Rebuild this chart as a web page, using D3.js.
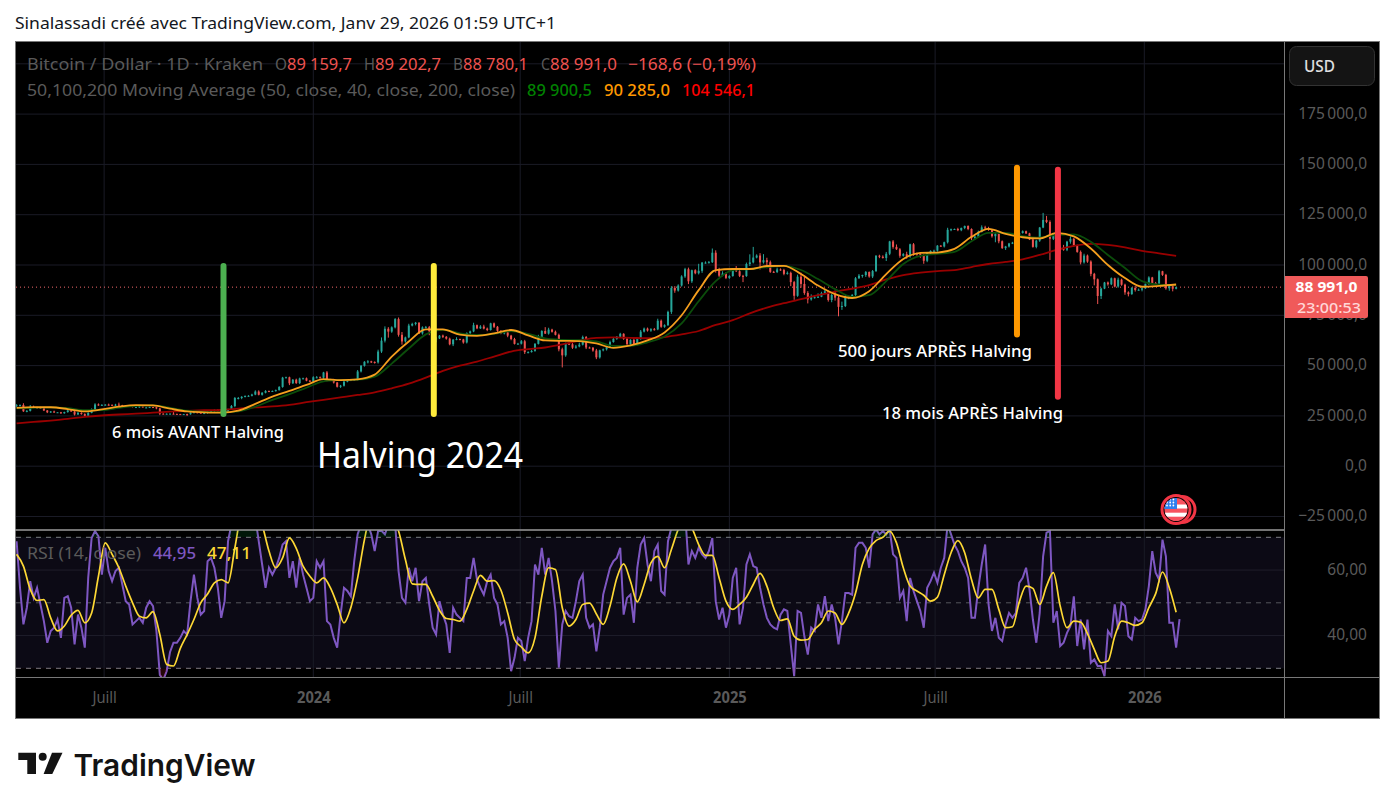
<!DOCTYPE html>
<html><head><meta charset="utf-8">
<script src="https://cdn.jsdelivr.net/npm/d3@7/dist/d3.min.js"></script>
<style>
html,body{margin:0;padding:0;background:#fff;overflow:hidden}
svg{display:block}
text{font-family:"Noto Sans",sans-serif}
</style></head><body>
<svg id="c" width="1395" height="809"></svg>
<script>
// ---- DATA (prices in thousands of USD) ----
const candleStart = "2023-04-15", candleStepDays = 3, firstOpen = 29.9;
const closes = [
30.3,30.4,27.3,27.5,29.5,29.2,29.0,28.9,27.7,26.8,
27.2,26.8,26.8,26.3,26.9,27.7,27.2,25.7,26.5,25.9,
25.1,26.5,28.3,30.7,30.3,30.5,30.6,30.5,30.3,30.6,
30.3,30.1,29.9,30.1,29.4,29.4,29.7,29.2,29.2,29.4,
29.3,28.7,26.1,26.0,26.1,26.1,26.0,25.9,25.8,25.9,
25.8,26.6,26.8,26.6,26.3,26.4,27.0,27.4,28.0,27.6,
26.8,27.1,28.4,29.9,33.9,33.9,34.5,34.9,35.0,35.6,
37.1,35.5,36.5,37.4,37.3,37.4,37.8,39.4,44.0,44.2,
41.2,43.0,41.3,43.6,43.7,42.5,42.1,44.2,44.2,44.0,
46.6,42.8,43.1,41.6,39.5,40.0,42.0,42.6,43.0,43.1,
47.1,49.9,51.9,52.1,51.8,51.6,57.0,62.4,68.3,66.9,
69.0,73.1,65.3,62.0,64.0,69.9,70.7,71.3,66.0,69.0,
69.1,67.1,63.4,63.5,64.9,64.3,63.4,60.6,62.9,63.2,
63.0,61.5,66.2,67.0,70.1,68.5,69.4,68.4,67.7,71.0,
69.3,67.3,66.0,66.5,64.9,63.2,60.8,60.9,62.1,56.7,
56.7,57.3,60.8,64.1,67.2,65.9,67.9,66.8,65.3,58.1,
55.1,60.9,60.6,58.9,59.5,60.4,64.2,59.0,58.9,57.5,
54.1,57.6,58.1,59.2,61.7,63.3,64.3,65.8,63.3,60.7,
62.8,60.6,63.2,66.9,68.4,67.4,68.1,68.0,72.3,69.3,
70.1,76.7,88.6,87.3,89.8,94.3,97.9,91.9,97.4,95.9,
97.1,101.2,101.2,101.4,106.1,97.8,94.7,95.8,93.6,94.5,
98.0,96.9,94.6,94.5,100.5,101.3,103.7,104.7,101.3,102.4,
101.4,96.6,96.5,97.8,97.5,95.6,96.1,91.5,84.7,94.2,
90.6,86.1,82.9,84.0,84.0,84.2,86.0,86.9,82.6,85.1,
83.8,79.2,79.6,83.7,84.0,85.1,93.4,94.7,95.0,96.5,
94.3,97.0,104.6,104.1,103.5,105.6,111.7,109.0,107.8,104.6,
105.4,104.3,110.3,105.7,105.5,104.9,102.1,105.9,107.0,107.1,
109.6,109.2,111.3,117.5,117.8,117.9,117.3,118.4,119.4,117.9,
113.3,114.1,116.5,118.7,118.4,117.4,114.3,115.4,111.8,108.4,
109.2,110.7,111.1,113.9,115.9,116.8,115.7,112.7,109.0,112.1,
118.6,122.4,121.4,113.0,115.2,108.2,108.7,107.6,111.6,113.0,
109.6,106.5,101.3,104.7,101.7,95.6,92.9,84.6,88.3,91.3,
90.4,93.4,89.3,92.7,90.2,86.4,85.5,88.6,87.6,87.7,
88.4,90.5,93.8,91.0,90.8,96.9,95.1,88.4,89.5,88.2,
89.0];
const wickUp = [
.5,.3,.9,.4,.9,.6,.4,.5,.3,.2,
.2,.4,.1,.2,.2,.5,.2,.2,.5,.3,
.4,.3,.4,.6,.5,.3,.2,.5,.2,.4,
1.0,.2,.3,.1,.3,.1,.2,.1,.3,.2,
.1,.2,.3,.2,.1,.2,1.0,.1,.1,.1,
.2,.2,.3,.2,.1,.2,.3,.4,.1,.2,
.1,.3,.2,.5,.5,.5,.3,.3,.3,.4,
.6,.6,.3,.4,.2,.2,.3,.4,.4,.3,
.3,.3,.5,.4,.3,.4,.3,.5,.6,.4,
.3,.7,.3,.3,.2,.4,.4,.6,.2,.2,
.7,.4,.3,.6,.3,.3,.9,1.6,1.2,.8,
.5,.5,.8,1.4,.4,.9,.6,.4,.3,.5,
.6,.6,.6,.8,.3,.5,.4,.5,.3,.9,
.2,.3,.3,.4,1.2,.3,.7,.9,.5,.3,
.4,.4,.3,.4,.5,.4,.6,.4,.6,.7,
.4,.5,.4,1.2,.4,1.9,.9,.4,.6,.6,
.8,.5,.9,.6,.8,1.0,.7,.5,.4,.3,
.8,.3,.4,.3,.7,.4,.4,.5,.3,.6,
.3,.8,.4,.8,.5,.5,.5,.6,1.0,.6,
.4,.6,.9,.9,.6,.6,.7,.8,.3,.5,
3.5,.3,.6,.6,2.1,1.2,.8,1.1,.6,.4,
.4,1.5,.8,.5,.7,4.0,5.3,.6,1.2,3.0,
1.2,.8,.5,.9,.5,.6,.7,.6,.6,1.0,
2.0,3.5,.9,1.4,.7,1.7,.7,1.0,.4,.6,
2.2,1.3,2.2,1.6,.8,.5,.6,.8,.2,.5,
.3,.5,.3,.5,.7,.9,.3,.7,1.2,.6,
.5,1.2,.3,.6,.5,.6,.5,.4,.3,.5,
.3,.3,.3,1.0,.3,.2,.6,.2,.2,.3,
.3,.4,.6,1.0,.8,.6,.3,.5,.2,.4,
.3,.3,.4,.5,.2,.4,.3,.3,.3,.4,
.3,3.5,2.0,.8,.5,.9,1.0,1.3,.4,1.2,
.4,.5,.7,.9,.5,.6,.5,.4,.4,.3,
.5,.4,.3,1.0,.5,.5,.5,.4,1.0,.6,
.5,.3,.6,.3,.6,.6,.2,.5,.6,.3,
.2];
const wickDown = [
.4,.6,.3,.5,.3,.4,.5,.3,.3,.4,
.3,.3,.2,.3,.2,.3,.2,.5,.2,.3,
.3,.4,.2,.3,.3,.3,.3,.4,.2,.4,
.2,.3,.2,.4,.2,.2,.4,.1,.2,.2,
.2,.4,.7,.2,.3,.2,.2,.2,.1,.2,
.8,.2,.2,.3,.2,.1,.3,.3,.2,.3,
.1,.2,.2,.3,.6,.7,.6,.3,.4,.3,
.3,.3,.4,.3,.5,.3,.3,.2,.4,.3,
.9,.3,.4,.5,.4,.3,.3,.3,.5,.4,
.5,.6,.4,.5,.4,.6,.4,.3,.3,.5,
.4,.5,.4,.8,.5,.6,.6,.7,.9,3.0,
.6,.5,.9,1.6,.6,.4,.4,.7,.3,.6,
.4,2.0,.9,1.8,.3,.6,.5,.5,.9,.3,
.4,.6,.5,.6,.4,.4,.3,.4,.6,.3,
.6,.5,.4,.5,.8,.6,.3,.3,.4,.9,
.6,.2,.4,.3,.5,.2,.5,.4,.3,1.0,
6.0,.7,.4,.6,.5,.4,.4,.8,.4,.6,
.9,.6,.5,.6,.4,.3,.5,.4,.5,.6,
.3,.5,.5,.4,.4,.5,.6,.6,.4,.5,
.5,.4,1.0,1.1,.5,.5,.7,1.4,.8,.5,
.6,1.0,.5,.4,.4,1.6,.7,.3,.6,.5,
.3,.4,.6,3.0,.4,1.0,.5,.4,3.5,.6,
3.0,.5,.4,.5,.4,.7,.4,2.0,2.0,.5,
1.9,.9,2.0,.6,.7,.3,.2,.5,.8,1.1,
1.5,4.7,1.5,.5,.7,.2,.6,.3,1.0,.9,
.6,.8,.5,.7,.3,1.5,.7,.9,.3,1.0,
.4,1.2,.7,1.1,.9,1.3,1.5,.7,.4,.4,
.5,.2,.5,.6,.7,.3,.5,.5,.6,.6,
.9,.7,.4,.3,.6,.4,.7,3.0,1.0,.4,
.9,.5,.3,.6,.4,.3,.3,.3,.4,.7,
.6,.3,.6,10.5,.6,.8,2.7,.5,.7,1.0,
.5,.4,1.0,.6,.6,1.2,3.0,4.0,1.5,.3,
.7,.4,.4,.6,.5,1.2,1.1,.3,.8,.3,
.8,.3,.4,.7,.4,.3,.5,.7,1.2,1.3,
.3];
const maStepDays = 15;
const ma40 = [29.0,29.4,29.3,28.4,27.2,28.2,29.6,30.4,30.2,28.6,27.2,26.8,26.6,27.6,31.0,34.6,37.4,40.4,43.3,42.8,43.2,45.5,54.5,62,68,68,65.4,64.8,66,67.7,65,62.5,62.3,62.2,61,58.8,60,62.5,66.5,75,87.5,97.5,98,98,99.5,99.6,95.5,89.8,85.5,83.6,87,95.5,103,106,106.2,108,114,118,115.5,113.8,113.2,116,114.2,108.2,100,93.5,89.2,89.6,90.3];
const ma50 = [28.8,29.0,29.2,28.8,27.8,27.9,29.0,30.0,30.2,29.0,27.6,27.0,26.7,27.2,29.6,33.0,35.8,39,42.2,42.8,43,44.5,51,58.5,65.5,67.8,66,65.2,65.8,67.2,65.8,63.5,62.8,62.6,62,59.8,59.8,61.6,64.5,71,82,92,97.5,98,99,99.6,97.5,93,88,84.2,85,92,100.5,104.5,105.5,106.5,111.8,116,116,114.4,113.6,115,115.2,111.5,105,98.5,92,90.2,89.9];
const ma200 = [21.3,22,22.7,23.5,24.5,25.2,25.7,26.1,26.6,27.1,27.5,27.8,28,28.6,29.2,29.7,30.5,31.8,33,34.2,35.4,36.7,38.7,41,44,47.4,50,52,54.5,57,58.2,59,60.5,62.4,63.8,64,63.8,63.6,64.2,65.5,67.2,70.2,72.6,76,78.8,81,83,85,86.8,88.2,90,92.8,95,96.2,97,97.5,99,100.5,101.5,102.8,105,107.5,109.5,110.5,110,108.8,107,105.8,104.5];
const rsi = [
68.8,54.6,43.4,48.5,56.6,51.5,54.6,49.5,44.4,37.8,41.4,42.4,44.9,39.3,51.5,52,48.5,37.3,46.4,42.4,36.3,57.6,69.8,71.9,70.3,58.6,66.8,59.7,56.6,59.7,60.7,55.6,50.5,49.5,43.4,44.4,45.4,43.9,48.5,50.5,49,41.4,28,26.5,29.1,35,37.8,37.8,39.3,41.4,40.3,50.5,58.6,51.5,46.4,47.5,62.7,63.7,60.7,54.6,45.4,50.5,68.8,73.9,78,80,78,76,76,77,76,68.8,61.7,54.6,60.7,58.6,60.7,63.7,67.8,68.8,57.6,62.7,54.6,63.7,58.6,54.6,50.5,51.5,62.7,60.7,62.7,44.4,43.4,39.3,36.3,46.4,54.6,53.6,
52,62.7,70.9,73.9,76,73.9,70.9,65.8,71.9,72,70.9,73.9,75,73.9,59.7,51.5,50,60.7,56.6,60.7,50.5,56.6,57.6,49.5,42.4,40.3,50.5,46.4,43.4,34.7,48.5,46.4,45.4,44.4,57.6,57.6,63.7,57.1,54.6,52.5,56.6,58.6,51.5,49.5,43.4,44.4,39.3,29.1,33.2,39.3,38.3,32.2,39.3,44.4,61.7,58.6,66.8,58.6,63.7,56.6,47.5,30.2,43.4,47.5,45.9,45.4,50.5,56.6,58.6,45.4,42.4,43.4,35.2,42.4,52.5,56.6,60.7,62.7,63.7,66.8,46.4,51.5,52.5,43.9,60.7,67.8,69.8,61.7,56.6,65.8,67.8,53.6,52.5,68.8,72.9,73.9,76,
80,78,61.7,65.8,63.7,66.8,64.8,63.7,65.8,69.8,50.5,44.9,48.5,42.4,46.4,57.6,60.7,43.4,48.5,61.7,64.8,61.2,60.7,54.6,49.5,45.4,43.4,42.4,41.9,46.4,48,47.5,37.3,27.6,47.5,46.9,39.7,34.2,42.4,41.4,49.5,45.4,52,44.4,49.5,45.4,37.3,44.4,53,53,52.5,66.8,68.3,68.3,66.8,60.7,70.9,72.4,70.9,71.9,70.9,72.4,64.8,63.7,51.5,53.6,44.4,57.6,53.6,50.5,47.5,42.4,54.6,56.6,59.2,56.1,60.7,63.7,73.9,70.9,67.8,65.8,62.7,60.7,57.6,45.4,45.4,54.6,61.7,67.8,49.5,41.4,45.4,39.3,38.3,43.4,46.9,
45.4,46.9,56.1,57.6,60.7,54.1,44.9,37.8,46.9,64.2,71.4,71.9,43.9,47.5,36.8,37.8,40.8,42.9,52,36.8,44.9,35.8,44.9,31.7,32.7,30.7,30.7,27.6,41.4,39.8,49.5,41.9,50,49,39.8,38.8,45.4,44.4,44.9,48,55.1,65.8,59.2,57.1,69.3,64.2,43.9,43.9,36.3,45];
const rsiMaStepDays = 6;
const rsiMa = [
64.8,61.2,54.1,50.7,51,45.4,41.4,42.9,46.2,47.7,43.9,46.9,58.1,68.3,64.8,60.7,55.1,50,45.9,45.4,47.3,40.3,31.2,30.7,36.1,40.3,44.9,50,52.7,56.1,57.1,56.1,66.8,78,81,80,73.9,65.8,60.7,63.7,69.8,66.6,61.2,58.1,56.1,57.6,54.6,49.5,43.9,
48.5,57.6,69.3,78,80,79,76,71.9,63.2,55.8,55.6,55.6,52,47.7,45.2,44.9,44.4,48,53.6,58.4,56.6,56.8,53.9,46.9,38.8,36.5,34.7,39.3,52,60.7,60.2,48.5,42.9,44.9,49.5,49.9,46.6,43.4,49,57.6,61.9,56.6,50.3,55.6,62.2,64.2,60.7,66.3,72.4,
75.9,72.9,67.8,64.5,64.5,57.6,50.5,48,49.5,51.7,55.6,59,55.1,48.5,44.6,45.1,39.8,38.6,38.8,41.9,43.9,47.5,46.9,43.4,46.9,53,61.7,66.6,69,70,71.9,68.3,60.7,55.1,53.6,52.3,50.5,51.7,58.6,65.3,69,65.3,57.1,51.5,54.1,54.1,48,42.4,
42.7,50.2,55.1,54.4,49.5,55.1,59.2,49,42.4,44.4,44.1,40.6,35.8,31.7,32.2,39.8,44.4,43.9,43.1,43.9,48.5,52.8,59.4,54.6,47.1];
const priceTicks = [-25,0,25,50,75,100,125,150,175];
const gridPrices = [-25,0,25,50,75,100,125,150,175,200];
const timeTickDates = ["2023-07-01","2024-01-01","2024-07-01","2025-01-01","2025-07-01","2026-01-01"];
const timeTickLabels = ["Juill","2024","Juill","2025","Juill","2026"];
const rsiTicks = [60,40];
const lastPrice = 88.991;
const annotationDates = ["2023-10-14","2024-04-16","2025-09-11","2025-10-17"];
const annotationTops = [99.5,99.5,148.3,147.3];
const annotationBottoms = [26,26,65.5,34.5];
const annotationColors = ["#4caf50","#ffeb3b","#ff9800","#f23645"];

// ---- LAYOUT ----
const svg = d3.select("#c");
const P = {l:16,r:1284,t:42,b:529.5}, R = {t:530.5,b:677}, OUT = {l:15.5,r:1379.5,t:41.5,b:718.5};
const UP="#26a69a", DOWN="#ef5350", AX="#5a5a5a", GRID="#1a1b26";
const parse = d3.utcParse("%Y-%m-%d");
const t0 = parse(candleStart);
const x = d3.scaleUtc().domain([parse("2024-01-01"),parse("2026-01-01")]).range([313.3,1144.3]);
const y = d3.scaleLinear().domain([0,100]).range([466.2,265]);
const yR = d3.scaleLinear().domain([30,70]).range([668.3,537.3]);
const dateAt = (i,step)=>d3.utcDay.offset(t0,i*step);
const defs = svg.append("defs");
defs.append("clipPath").attr("id","clipP").append("rect").attr("x",P.l).attr("y",P.t).attr("width",P.r-P.l).attr("height",P.b-P.t);
defs.append("clipPath").attr("id","clipR").append("rect").attr("x",P.l).attr("y",R.t).attr("width",P.r-P.l).attr("height",R.b-R.t);
defs.append("clipPath").attr("id","clipOB").append("rect").attr("x",P.l).attr("y",R.t).attr("width",P.r-P.l).attr("height",yR(70)-R.t);
defs.append("clipPath").attr("id","clipOS").append("rect").attr("x",P.l).attr("y",yR(30)).attr("width",P.r-P.l).attr("height",R.b-yR(30));

function label(g,txt,xp,yp,o={}){
  const t=g.append("text").attr("x",xp).attr("y",yp).attr("fill",o.fill||AX).attr("font-size",o.size||15)
   .attr("font-weight",o.weight||400).attr("text-anchor",o.anchor||"start").attr("dominant-baseline","central").text(txt);
  if(o.w){t.attr("textLength",o.w).attr("lengthAdjust","spacingAndGlyphs");}
  return t;
}
function condense(sel,k){ sel.each(function(){ const w=this.getComputedTextLength(); this.setAttribute("textLength",w*k); this.setAttribute("lengthAdjust","spacingAndGlyphs"); }); }

// header
label(svg,"Sinalassadi créé avec TradingView.com, Janv 29, 2026 01:59 UTC+1",15,22.5,{fill:"#131722",size:15.5,w:541});

// frame
svg.append("rect").attr("x",OUT.l).attr("y",OUT.t).attr("width",OUT.r-OUT.l).attr("height",OUT.b-OUT.t).attr("fill","#000").attr("stroke","#787878").attr("stroke-width",1);

// grid main
const gMain = svg.append("g").attr("clip-path","url(#clipP)");
gMain.selectAll("line.h").data(gridPrices).join("line").attr("x1",P.l).attr("x2",P.r).attr("y1",d=>y(d)).attr("y2",d=>y(d)).attr("stroke",GRID);
const tickDates = timeTickDates.map(parse);
gMain.selectAll("line.v").data(tickDates).join("line").attr("x1",d=>x(d)).attr("x2",d=>x(d)).attr("y1",P.t).attr("y2",P.b).attr("stroke",GRID);

// legend (under the marks)
const lg = svg.append("g");
const L1=63, L2=89;
label(lg,"Bitcoin / Dollar · 1D · Kraken",27,L1,{size:17,w:236});
[["O",275,12,AX],["89 159,7",287,65,DOWN],["H",364,11,AX],["89 202,7",375,66,DOWN],["B",453,10,AX],["88 780,1",463,65,DOWN],["C",541,9,AX],["88 991,0",550,67,DOWN],["−168,6 (−0,19%)",628,128,DOWN]]
 .forEach(a=>label(lg,a[0],a[1],L1,{size:17,w:a[2],fill:a[3]}));
label(lg,"50,100,200 Moving Average (50, close, 40, close, 200, close)",27,L2,{size:17,w:488});
[["89 900,5",527,65,"#008000"],["90 285,0",604,66,"#ff9800"],["104 546,1",682,73,"#ff0000"]].forEach(a=>label(lg,a[0],a[1],L2,{size:17,w:a[2],fill:a[3],weight:500}));

// last price dotted
gMain.append("line").attr("x1",P.l).attr("x2",P.r).attr("y1",y(lastPrice)).attr("y2",y(lastPrice)).attr("stroke","#f0686c").attr("stroke-dasharray","1 3");

// candles
const candles = closes.map((c,i)=>{const o=i?closes[i-1]:firstOpen;return {d:dateAt(i,candleStepDays),o,c,h:Math.max(o,c)+wickUp[i],l:Math.min(o,c)-wickDown[i]};});
const gC = gMain.append("g");
gC.selectAll("line").data(candles).join("line").attr("x1",d=>x(d.d)).attr("x2",d=>x(d.d)).attr("y1",d=>y(d.h)).attr("y2",d=>y(d.l)).attr("stroke",d=>d.c>=d.o?UP:DOWN).attr("stroke-width",1);
gC.selectAll("rect").data(candles).join("rect").attr("x",d=>x(d.d)-1).attr("width",2).attr("y",d=>Math.min(y(d.o),y(d.c))).attr("height",d=>Math.max(1,Math.abs(y(d.o)-y(d.c)))).attr("fill",d=>d.c>=d.o?UP:DOWN);

// moving averages
const maLine = d3.line().x((d,i)=>x(dateAt(i,maStepDays))).y(d=>y(d)).curve(d3.curveMonotoneX);
[[ma200,"#990000"],[ma50,"#0b4d0b"],[ma40,"#f59f1e"]].forEach(([s,c])=>gMain.append("path").attr("d",maLine(s)).attr("fill","none").attr("stroke",c).attr("stroke-width",1.8));

// annotation bars
annotationDates.forEach((d,i)=>{
  svg.append("line").attr("x1",x(parse(d))).attr("x2",x(parse(d))).attr("y1",y(annotationTops[i])).attr("y2",y(annotationBottoms[i]))
    .attr("stroke",annotationColors[i]).attr("stroke-width",6).attr("stroke-linecap","round");
});
label(svg,"6 mois AVANT Halving",198,431,{fill:"#fff",size:16.5,anchor:"middle",w:172,weight:500});
label(svg,"Halving 2024",420,454,{fill:"#fff",size:36,anchor:"middle",w:206,weight:400});
label(svg,"500 jours APRÈS Halving",935,350,{fill:"#fff",size:16.5,anchor:"middle",w:194,weight:500});
label(svg,"18 mois APRÈS Halving",972.5,412,{fill:"#fff",size:16.5,anchor:"middle",w:181,weight:500});

// flag event icon
const fg = svg.append("g").attr("transform","translate(1176,509.5)");
defs.append("clipPath").attr("id","clipFlag").append("circle").attr("r",11.5);
fg.append("circle").attr("cx",6).attr("r",13).attr("fill","#000").attr("stroke","#f23645").attr("stroke-width",3);
fg.append("circle").attr("r",14).attr("fill","#000").attr("stroke","#f23645").attr("stroke-width",3);
const ff = fg.append("g").attr("clip-path","url(#clipFlag)");
ff.append("rect").attr("x",-12).attr("y",-12).attr("width",24).attr("height",24).attr("fill","#f7525f");
[-5,3.2].forEach(a=>ff.append("rect").attr("x",-12).attr("y",a).attr("width",24).attr("height",4).attr("fill","#fff"));
ff.append("rect").attr("x",-12).attr("y",-12).attr("width",13).attr("height",11.5).attr("fill","#2f80ed");
d3.range(-9,0,3.2).forEach(a=>d3.range(-10,-1,3).forEach(b=>ff.append("circle").attr("cx",a).attr("cy",b).attr("r",.9).attr("fill","#fff")));

// RSI pane
svg.append("rect").attr("x",P.l).attr("y",yR(70)).attr("width",P.r-P.l).attr("height",yR(30)-yR(70)).attr("fill","#0c0a15");
const gR = svg.append("g").attr("clip-path","url(#clipR)");
gR.selectAll("line.s").data(rsiTicks).join("line").attr("x1",P.l).attr("x2",P.r).attr("y1",d=>yR(d)).attr("y2",d=>yR(d)).attr("stroke","#1f1e2b");
gR.selectAll("line.v").data(tickDates).join("line").attr("x1",d=>x(d)).attr("x2",d=>x(d)).attr("y1",R.t).attr("y2",R.b).attr("stroke",GRID);
[[70,"#7d7d85"],[50,"#55555c"],[30,"#7d7d85"]].forEach(([v,c])=>gR.append("line").attr("x1",P.l).attr("x2",P.r).attr("y1",yR(v)).attr("y2",yR(v)).attr("stroke",c).attr("stroke-dasharray","5 5"));
const lr = svg.append("g");
label(lr,"RSI (14, close)",27,552.5,{size:17,w:114});
label(lr,"44,95",153,552.5,{size:17,w:43,fill:"#7e57c2",weight:500});
label(lr,"47,11",207,552.5,{size:17,w:44,fill:"#fdd835",weight:500});
const rsiX=(d,i)=>x(dateAt(i,candleStepDays));
svg.append("path").attr("clip-path","url(#clipOB)").attr("fill","rgba(0,160,60,.14)").attr("d",d3.area().x(rsiX).y0(yR(70)).y1(d=>yR(d))(rsi));
svg.append("path").attr("clip-path","url(#clipOS)").attr("fill","rgba(200,30,30,.18)").attr("d",d3.area().x(rsiX).y0(yR(30)).y1(d=>yR(d))(rsi));
gR.append("path").attr("d",d3.line().x(rsiX).y(d=>yR(d))(rsi)).attr("fill","none").attr("stroke","#7e57c2").attr("stroke-width",2);
gR.append("path").attr("d",d3.line().x((d,i)=>x(dateAt(i,rsiMaStepDays))).y(d=>yR(d)).curve(d3.curveMonotoneX)(rsiMa)).attr("fill","none").attr("stroke","#fdd835").attr("stroke-width",1.7);

// pane separators
svg.append("line").attr("x1",OUT.l).attr("x2",P.r).attr("y1",530).attr("y2",530).attr("stroke","#e8e8e8").attr("stroke-width",1.2);
svg.append("line").attr("x1",OUT.l).attr("x2",OUT.r).attr("y1",677.5).attr("y2",677.5).attr("stroke","#787878");
svg.append("line").attr("x1",P.r+.5).attr("x2",P.r+.5).attr("y1",OUT.t).attr("y2",OUT.b).attr("stroke","#787878");

// axes
const loc = d3.formatLocale({decimal:",",thousands:"\u202f",grouping:[3],currency:["",""],minus:"\u2212"});
const fmtP = loc.format(",.1f"), fmtR = loc.format(".2f");
const axP = d3.axisRight(y).tickValues(priceTicks).tickSize(0).tickPadding(0).tickFormat(d=>fmtP(d*1000));
const gAP = svg.append("g").attr("transform","translate(1367,-1)").call(axP);
gAP.select(".domain").remove();
gAP.selectAll("text").attr("text-anchor","end").attr("fill",AX).attr("font-size",16.5).attr("font-family",'"Noto Sans",sans-serif').call(condense,.94);
const axR = d3.axisRight(yR).tickValues(rsiTicks).tickSize(0).tickPadding(0).tickFormat(fmtR);
const gAR = svg.append("g").attr("transform","translate(1367,-1)").call(axR);
gAR.select(".domain").remove();
gAR.selectAll("text").attr("text-anchor","end").attr("fill",AX).attr("font-size",16.5).attr("font-family",'"Noto Sans",sans-serif').call(condense,.94);
const axT = d3.axisBottom(x).tickValues(tickDates).tickSize(0).tickPadding(0).tickFormat((d,i)=>timeTickLabels[i]);
const gAT = svg.append("g").attr("transform","translate(0,697)").call(axT);
gAT.select(".domain").remove();
gAT.selectAll("text").attr("dy",0).attr("dominant-baseline","central").attr("fill",AX).attr("font-size",16).attr("font-family",'"Noto Sans",sans-serif')
  .attr("font-weight",(d,i)=>timeTickLabels[i].length===4&&+timeTickLabels[i]?700:400).call(condense,.92);

// price label
svg.append("path").attr("d","M1285 276H1366a2 2 0 0 1 2 2V316a2 2 0 0 1 -2 2H1285Z").attr("fill","#f05a5a");
label(svg,"88 991,0",1326.5,286,{fill:"#fff",size:15,anchor:"middle",w:62,weight:700});
label(svg,"23:00:53",1329,306.5,{fill:"#ffd7d7",size:15,anchor:"middle",w:64,weight:500});

// USD button
svg.append("rect").attr("x",1289.5).attr("y",46.5).attr("width",85).attr("height",39).attr("rx",7).attr("fill","#141414").attr("stroke","#333");
label(svg,"USD",1304,65.5,{fill:"#e0e0e0",size:17,w:31,weight:500});

// TradingView logo
const logo = svg.append("g").attr("fill","#131313");
logo.append("path").attr("d","M18.3 752.7H36V774H27.3V760H18.3Z");
logo.append("circle").attr("cx",42.7).attr("cy",756.8).attr("r",4);
logo.append("path").attr("d","M52 752.7H62.5L52.3 774H43.6Z");
label(svg,"TradingView",73.5,765,{fill:"#131313",size:30,w:182,weight:600}).style("font-family",'Inter,"Noto Sans",sans-serif');
</script></body></html>
